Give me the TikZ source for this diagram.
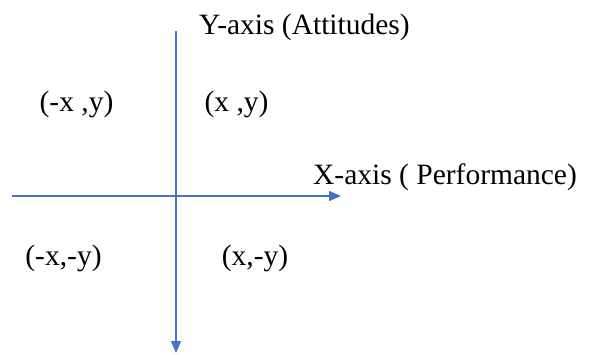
\documentclass[tikz,border=0pt]{standalone}
\usepackage{fontspec}
\setmainfont{Liberation Serif}
\usetikzlibrary{arrows.meta}
\definecolor{axisblue}{HTML}{4472C4}
\begin{document}
\begin{tikzpicture}[x=1pt,y=-1pt,
  axis/.style={draw=axisblue,line width=1.5pt,-{Triangle[length=12pt,width=10pt]}},
  lbl/.style={inner sep=0pt,font=\fontsize{29.5}{34}\selectfont}]
\useasboundingbox (0,0) rectangle (593,354);
\coordinate (xs) at (12,196);
\coordinate (xe) at (341,196);
\coordinate (ys) at (176,31);
\coordinate (ye) at (176,353);
\draw[axis] (xs) -- (xe);
\draw[axis] (ys) -- (ye);
\node[lbl] (ylab) at (304.5,27) {Y-axis (Attitudes)};
\node[lbl] (xlab) at (445,177) {X-axis ( Performance)};
\node[lbl] (q2) at (76.5,104) {(-x ,y)};
\node[lbl] (q1) at (236.5,104) {(x ,y)};
\node[lbl] (q3) at (63.5,258) {(-x,-y)};
\node[lbl] (q4) at (255,258) {(x,-y)};
\end{tikzpicture}
\end{document}
